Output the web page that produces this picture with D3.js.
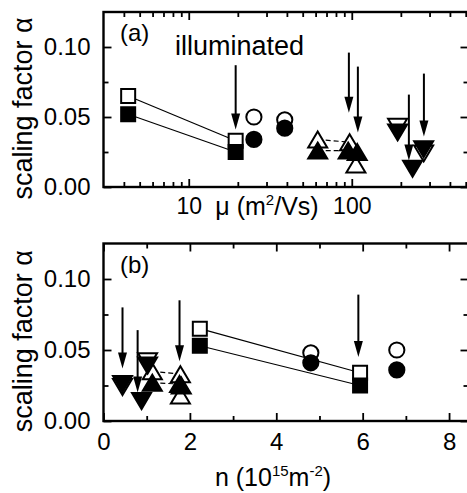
<!DOCTYPE html>
<html>
<head>
<meta charset="utf-8">
<script src="https://cdn.jsdelivr.net/npm/d3@7"></script>
<style>
  body { margin: 0; background: #fff; }
  text { font-family: "Liberation Sans", Arial, Helvetica, sans-serif; fill: #000; }
</style>
</head>
<body>
<svg id="chart" width="467" height="493"></svg>
<script>
// ---- panel (a): mobility mu (m^2/Vs), log axis
const muSquare = [4.25, 19.4]
const alphaSquareOpenA = [0.065, 0.033]
const alphaSquareFilledA = [0.052, 0.025]
const muCircle = [25.1, 38.8]
const alphaCircleOpenA = [0.050, 0.048]
const alphaCircleFilledA = [0.034, 0.042]
const muUpOpen = [61.8, 97, 106]
const alphaUpOpenA = [0.034, 0.032, 0.016]
const muUpFilled = [61.8, 95, 108]
const alphaUpFilledA = [0.026, 0.026, 0.025]
const muDownOpen = [191, 276]
const alphaDownOpenA = [0.043, 0.024]
const muDownFilled = [191, 236, 276]
const alphaDownFilledA = [0.039, 0.013, 0.027]
const muArrowX = [19.4, 96, 109, 224, 277]
const muArrowFrom = [0.087, 0.096, 0.086, 0.066, 0.081]
const muArrowTo = [0.041, 0.053, 0.039, 0.019, 0.036]
const muMajorTicks = [10, 100]
const muMinorTicks = [4, 5, 6, 7, 8, 9, 20, 30, 40, 50, 60, 70, 80, 90, 200, 300, 400, 500]

// ---- panel (b): density n (10^15 m^-2)
const nSquare = [2.23, 5.94]
const alphaSquareOpenB = [0.065, 0.034]
const alphaSquareFilledB = [0.053, 0.025]
const nCircle = [6.79, 4.80]
const alphaCircleOpenB = [0.050, 0.048]
const alphaCircleFilledB = [0.036, 0.041]
const nUpOpen = [1.13, 1.78, 1.78]
const alphaUpOpenB = [0.035, 0.033, 0.018]
const nUpFilled = [1.13, 1.76, 1.80]
const alphaUpFilledB = [0.027, 0.026, 0.025]
const nDownOpen = [1.02, 0.44]
const alphaDownOpenB = [0.042, 0.024]
const nDownFilled = [1.02, 0.88, 0.44]
const alphaDownFilledB = [0.039, 0.014, 0.026]
const nArrowX = [0.44, 0.79, 1.76, 5.90]
const nArrowFrom = [0.080, 0.064, 0.085, 0.089]
const nArrowTo = [0.037, 0.020, 0.042, 0.045]
const nMajorTicks = [0, 2, 4, 6, 8]
const nMinorTicks = [1, 3, 5, 7]

const alphaMajorTicks = [0, 0.05, 0.10]
const alphaMinorTicks = [0.025, 0.075]

const svg = d3.select("#chart")
const left = 103.5, right = 468.5

const zip = (xs, ys) => xs.map((x, i) => [x, ys[i]])

// marker shapes, centred on their bounding box
const shapes = {
  square: "M-7,-7H7V7H-7Z",
  up: "M0,-8L9.5,8H-9.5Z",
  down: "M0,8L9.5,-8H-9.5Z"
}

function drawPanel(cfg) {
  const x = cfg.x, y = cfg.y
  const g = svg.append("g")

  // axes, ticks inside on all four sides
  const bottom = g.append("g").attr("transform", `translate(0,${cfg.bottom})`)
  bottom.call(d3.axisBottom(x).tickValues(cfg.majorX).tickFormat(cfg.fmtX)
      .tickSize(-8).tickSizeOuter(0).tickPadding(cfg.padX))
  bottom.append("g").call(d3.axisBottom(x).tickValues(cfg.minorX)
      .tickFormat("").tickSize(-5).tickSizeOuter(0))
  const top = g.append("g").attr("transform", `translate(0,${cfg.top})`)
  top.call(d3.axisTop(x).tickValues(cfg.majorX).tickFormat("").tickSize(-8).tickSizeOuter(0))
  top.append("g").call(d3.axisTop(x).tickValues(cfg.minorX).tickFormat("").tickSize(-5).tickSizeOuter(0))

  const yl = g.append("g").attr("transform", `translate(${left},0)`)
  yl.call(d3.axisLeft(y).tickValues(alphaMajorTicks).tickFormat(d3.format(".2f"))
      .tickSize(-8).tickSizeOuter(0).tickPadding(13))
  yl.append("g").call(d3.axisLeft(y).tickValues(alphaMinorTicks).tickFormat("").tickSize(-5).tickSizeOuter(0))
  const yr = g.append("g").attr("transform", `translate(${right},0)`)
  yr.call(d3.axisRight(y).tickValues(alphaMajorTicks).tickFormat("").tickSize(-8).tickSizeOuter(0))
  yr.append("g").call(d3.axisRight(y).tickValues(alphaMinorTicks).tickFormat("").tickSize(-5).tickSizeOuter(0))

  g.selectAll(".domain").remove()
  g.selectAll(".tick line").attr("stroke", "#000").attr("stroke-width", 1.8)
  g.selectAll(".tick text").style("font-size", cfg.tickFont).attr("fill", "#000")
  yl.selectAll(".tick text").style("font-size", "24px")

  g.append("rect")
    .attr("x", left).attr("y", cfg.top)
    .attr("width", right - left).attr("height", cfg.bottom - cfg.top)
    .attr("fill", "none").attr("stroke", "#000").attr("stroke-width", 2.4)

  // connecting lines
  cfg.links.forEach(l => {
    g.append("path")
      .attr("d", d3.line().x(d => x(d[0])).y(d => y(d[1]))(l.pts))
      .attr("fill", "none").attr("stroke", "#000").attr("stroke-width", 1.2)
      .attr("stroke-dasharray", l.dash ? "5,3" : null)
  })

  // markers: open first, filled drawn over them
  const order = cfg.series.filter(s => !s.filled).concat(cfg.series.filter(s => s.filled))
  order.forEach(s => {
    const m = g.append("g").selectAll("g").data(s.pts).join("g")
      .attr("transform", d => `translate(${x(d[0])},${y(d[1])})`)
    const fill = s.filled ? "#000" : "#fff"
    if (s.shape === "circle") {
      m.append("circle").attr("r", 7.6)
        .attr("fill", fill).attr("stroke", "#000").attr("stroke-width", 2)
    } else {
      m.append("path").attr("d", shapes[s.shape])
        .attr("fill", fill).attr("stroke", "#000").attr("stroke-width", 2)
        .attr("stroke-linejoin", "miter")
    }
  })

  // arrows
  cfg.arrows.forEach(a => {
    const ax = x(a[0]), y0 = y(a[1]), y1 = y(a[2])
    g.append("line").attr("x1", ax).attr("x2", ax).attr("y1", y0).attr("y2", y1 - 12)
      .attr("stroke", "#000").attr("stroke-width", 2)
    g.append("path")
      .attr("d", `M${ax},${y1}L${ax - 4.5},${y1 - 16}L${ax + 4.5},${y1 - 16}Z`)
      .attr("fill", "#000")
  })

  // y label
  g.append("text")
    .attr("transform", `translate(32,${(cfg.top + cfg.bottom) / 2 + 9}) rotate(-90)`)
    .attr("text-anchor", "middle")
    .style("font-size", "27px")
    .text("scaling factor α")

  g.append("text").attr("x", 120).attr("y", cfg.top + 29)
    .style("font-size", "24px").text(cfg.tag)

  return g
}

// ---------- panel (a)
const xA = d3.scaleLog().domain([3, 520]).range([left, right])
const yA = d3.scaleLinear().domain([0, 0.125]).range([187, 12])

const gA = drawPanel({
  x: xA, y: yA, top: 12, bottom: 187,
  majorX: muMajorTicks, minorX: muMinorTicks, fmtX: d3.format("d"), padX: 11, tickFont: "23px",
  tag: "(a)",
  series: [
    { shape: "square", filled: false, pts: zip(muSquare, alphaSquareOpenA) },
    { shape: "square", filled: true, pts: zip(muSquare, alphaSquareFilledA) },
    { shape: "circle", filled: false, pts: zip(muCircle, alphaCircleOpenA) },
    { shape: "circle", filled: true, pts: zip(muCircle, alphaCircleFilledA) },
    { shape: "up", filled: false, pts: zip(muUpOpen, alphaUpOpenA) },
    { shape: "up", filled: true, pts: zip(muUpFilled, alphaUpFilledA) },
    { shape: "down", filled: false, pts: zip(muDownOpen, alphaDownOpenA) },
    { shape: "down", filled: true, pts: zip(muDownFilled, alphaDownFilledA) }
  ],
  links: [
    { pts: zip(muSquare, alphaSquareOpenA) },
    { pts: zip(muSquare, alphaSquareFilledA) },
    { dash: true, pts: zip(muUpOpen.slice(0, 2), alphaUpOpenA.slice(0, 2)) },
    { dash: true, pts: zip(muUpFilled.slice(0, 2), alphaUpFilledA.slice(0, 2)) }
  ],
  arrows: muArrowX.map((v, i) => [v, muArrowFrom[i], muArrowTo[i]])
})

gA.append("text").attr("x", 175).attr("y", 55).style("font-size", "27px").text("illuminated")

const muLabel = gA.append("text").attr("x", 267).attr("y", 215)
  .attr("text-anchor", "middle").style("font-size", "25px")
muLabel.append("tspan").text("μ (m")
muLabel.append("tspan").attr("dy", -10).style("font-size", "15px").text("2")
muLabel.append("tspan").attr("dy", 10).text("/Vs)")

// ---------- panel (b)
const xB = d3.scaleLinear().domain([0, 8.45]).range([left, right])
const yB = d3.scaleLinear().domain([0, 0.125]).range([421, 243.5])

const gB = drawPanel({
  x: xB, y: yB, top: 243.5, bottom: 421,
  majorX: nMajorTicks, minorX: nMinorTicks, fmtX: d3.format("d"), padX: 12, tickFont: "24px",
  tag: "(b)",
  series: [
    { shape: "square", filled: false, pts: zip(nSquare, alphaSquareOpenB) },
    { shape: "square", filled: true, pts: zip(nSquare, alphaSquareFilledB) },
    { shape: "circle", filled: false, pts: zip(nCircle, alphaCircleOpenB) },
    { shape: "circle", filled: true, pts: zip(nCircle, alphaCircleFilledB) },
    { shape: "up", filled: false, pts: zip(nUpOpen, alphaUpOpenB) },
    { shape: "up", filled: true, pts: zip(nUpFilled, alphaUpFilledB) },
    { shape: "down", filled: false, pts: zip(nDownOpen, alphaDownOpenB) },
    { shape: "down", filled: true, pts: zip(nDownFilled, alphaDownFilledB) }
  ],
  links: [
    { pts: zip(nSquare, alphaSquareOpenB) },
    { pts: zip(nSquare, alphaSquareFilledB) },
    { dash: true, pts: zip(nUpOpen.slice(0, 2), alphaUpOpenB.slice(0, 2)) },
    { dash: true, pts: zip(nUpFilled.slice(0, 2), alphaUpFilledB.slice(0, 2)) }
  ],
  arrows: nArrowX.map((v, i) => [v, nArrowFrom[i], nArrowTo[i]])
})

const nLabel = gB.append("text").attr("x", 273).attr("y", 486)
  .attr("text-anchor", "middle").style("font-size", "25px")
nLabel.append("tspan").text("n (10")
nLabel.append("tspan").attr("dy", -10).style("font-size", "15px").text("15")
nLabel.append("tspan").attr("dy", 10).text("m")
nLabel.append("tspan").attr("dy", -10).style("font-size", "15px").text("-2")
nLabel.append("tspan").attr("dy", 10).text(")")
</script>
</body>
</html>
